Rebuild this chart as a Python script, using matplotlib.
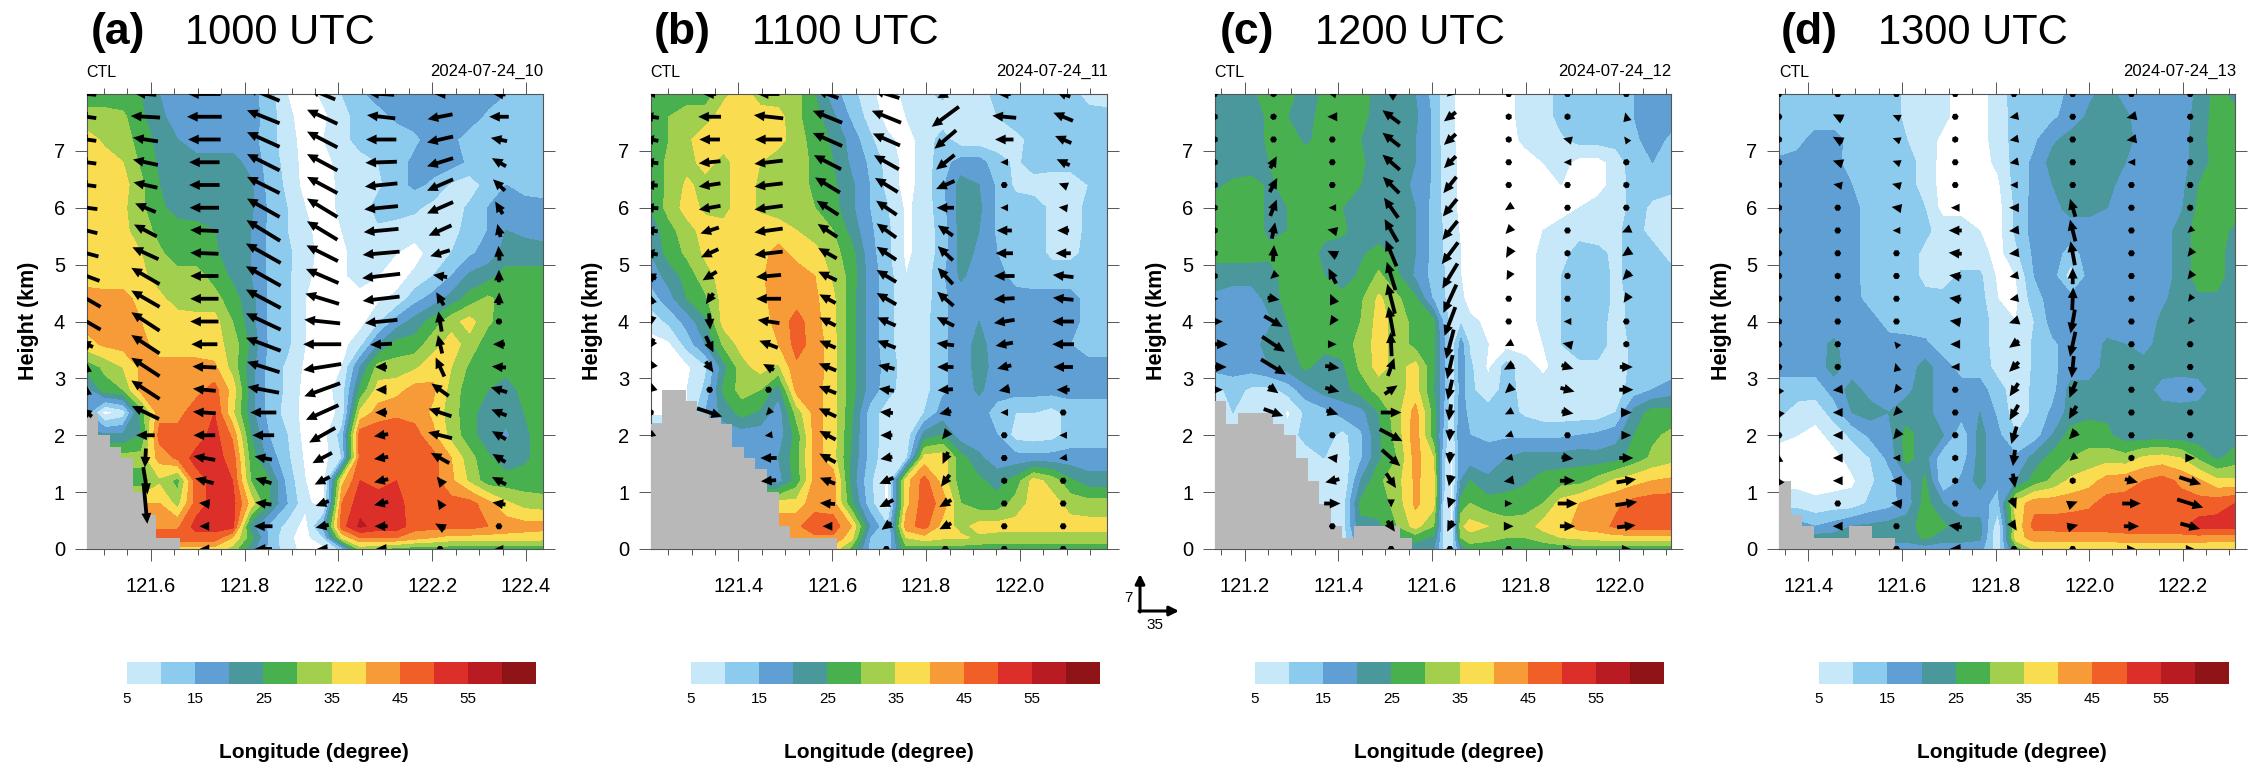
import numpy as np
import matplotlib
matplotlib.use("Agg")
import matplotlib.pyplot as plt
from matplotlib.ticker import MultipleLocator

plt.rcParams['font.family'] = ['Liberation Sans', 'DejaVu Sans']
nan = float('nan')

heights = [8.0,7.6,7.2,6.8,6.4,6.0,5.6,5.2,4.8,4.4,4.0,3.6,3.2,2.8,2.4,2.0,1.6,1.2,0.8,0.4,0.2,0.0]
vec_heights = [8.0,7.6,7.2,6.8,6.4,6.0,5.6,5.2,4.8,4.4,4.0,3.6,3.2,2.8,2.4,2.0,1.6,1.2,0.8,0.4,0.0]
levels = [0,5,10,15,20,25,30,35,40,45,50,55,60,65]
colors = ['#ffffff','#c6e8f9','#8ccbee','#5f9fd4','#4a979c','#49b050','#a3cf4f','#fadc50','#f79a38','#f05f28','#dd2f2a','#b81b22','#8e1418']
cbar_ticks = [5,15,25,35,45,55]

spd_a = [
[27,27,27,25,20,17,17,17,17,17,12,5,3,6,10,14,17,17,17,17,17,17,17,15,12,12],
[32,32,31,26,21,18,17,17,17,17,13,6,3,4,8,12,13,16,17,17,17,17,14,12,12,12],
[37,34,32,28,23,20,17,17,17,17,12,7,3,5,8,12,12,12,14,17,16,13,12,12,12,12],
[37,37,35,29,24,22,22,22,22,18,13,8,3,3,7,8,10,13,16,17,17,14,12,12,12,12],
[37,37,37,31,25,22,22,22,22,21,13,9,3,3,6,7,9,13,16,14,9,7,12,15,13,12],
[37,37,36,31,26,23,22,22,22,21,14,10,5,3,6,7,12,12,11,8,7,11,15,17,17,17],
[37,37,36,33,28,27,27,25,22,20,14,10,6,3,5,7,9,8,7,5,8,12,15,20,19,18],
[37,37,37,35,31,27,27,26,22,20,14,11,7,3,4,7,8,5,3,7,10,14,17,22,22,22],
[38,37,37,36,33,32,32,28,24,20,14,11,6,3,4,7,5,3,6,10,15,21,23,27,27,27],
[42,42,42,38,36,33,32,32,27,22,14,11,5,3,3,3,4,6,13,17,22,27,31,28,27,27],
[42,42,42,40,37,37,37,37,30,22,14,11,5,3,3,3,9,17,22,27,33,37,31,27,27,27],
[38,41,42,42,37,37,37,37,33,24,14,11,5,3,3,8,20,27,27,33,37,33,27,27,27,27],
[27,31,35,41,42,42,42,41,33,22,13,9,4,3,5,20,32,32,34,38,35,29,27,27,27,27],
[17,28,30,42,42,43,43,47,38,22,13,9,3,3,7,26,37,38,42,41,33,27,25,22,27,27],
[17,3,7,27,43,43,48,50,36,22,13,8,3,3,6,36,42,44,43,39,32,27,22,22,25,27],
[21,21,21,25,47,47,47,52,44,25,15,10,3,3,12,48,49,48,47,41,33,27,22,19,24,27],
[32,32,32,32,42,46,52,52,48,28,18,11,4,3,10,47,50,47,47,47,40,32,26,22,24,27],
[27,27,27,27,34,28,47,52,50,30,26,13,5,3,38,50,48,50,47,47,41,34,27,27,27,27],
[40,40,40,40,40,33,47,52,52,38,25,15,6,3,45,53,53,52,47,47,47,47,42,36,33,32],
[44,44,44,44,44,44,52,52,52,22,14,8,3,17,48,56,53,53,47,47,47,47,45,43,42,42],
[48,48,48,48,48,48,48,48,40,27,14,6,3,10,36,45,45,45,42,40,38,38,38,38,38,37],
[38,38,38,38,38,38,38,38,33,22,14,7,3,3,12,32,30,28,27,27,27,27,27,27,27,27],
]
spd_b = [
[27,27,27,27,34,37,33,32,32,25,17,12,6,3,6,9,11,7,7,12,13,13,13,12,8,7],
[27,30,33,33,37,37,37,37,31,27,21,14,8,3,5,7,7,7,7,10,13,13,13,13,12,12],
[27,30,34,38,38,38,38,37,32,28,24,18,11,6,3,7,12,7,7,7,8,12,12,12,12,12],
[27,31,33,37,33,38,35,32,32,29,25,19,14,8,3,7,13,17,17,12,9,12,12,12,12,12],
[27,31,36,33,33,38,34,32,32,29,26,21,15,8,3,7,14,22,20,14,9,8,7,7,10,12],
[25,32,37,34,33,38,34,33,32,30,27,21,15,10,4,7,13,22,21,14,12,12,9,8,11,12],
[22,28,33,37,37,38,38,37,35,32,30,23,16,11,4,7,12,22,20,14,12,12,9,8,11,12],
[20,27,31,36,37,38,38,42,38,37,32,27,17,11,4,7,12,22,19,15,12,12,9,9,11,12],
[17,22,27,33,37,37,39,43,43,40,34,28,18,12,5,7,14,21,17,17,13,12,12,12,12,12],
[12,18,25,29,37,37,38,43,43,41,36,27,18,12,5,7,14,17,17,17,17,17,17,17,13,12],
[7,11,17,24,37,37,37,42,47,42,36,27,18,12,5,8,14,17,20,17,17,17,17,17,13,12],
[3,4,12,20,31,37,37,40,47,43,37,27,18,12,6,8,14,17,22,17,17,17,17,15,12,12],
[3,3,4,9,23,33,37,34,44,43,37,27,18,13,7,8,14,17,22,18,17,17,17,17,17,17],
[3,3,5,11,26,32,30,22,42,42,37,27,18,12,7,8,14,17,21,17,17,17,17,17,17,17],
[3,3,5,15,22,27,24,17,32,42,37,26,13,7,7,10,17,17,17,13,10,10,8,12,12,12],
[17,17,17,17,17,17,17,17,27,42,37,25,13,7,6,22,25,17,17,15,8,7,8,12,12,12],
[15,15,15,15,15,15,15,20,28,42,37,24,13,6,8,37,38,27,21,17,17,17,17,17,17,17],
[18,18,18,18,18,18,18,18,27,42,43,23,11,4,38,47,38,27,26,23,27,37,33,26,22,22],
[37,37,37,37,37,37,37,37,37,43,42,26,12,3,38,48,43,30,27,27,32,37,37,33,32,32],
[44,44,44,44,44,44,44,44,44,48,48,40,20,10,43,47,38,33,37,37,37,37,37,37,37,37],
[44,44,44,44,44,44,44,44,44,44,44,37,15,10,35,38,36,36,34,33,33,33,33,33,33,33],
[30,30,30,30,30,30,30,30,30,40,38,28,14,12,28,27,27,27,27,27,27,27,27,27,27,27],
]
spd_c = [
[22,22,24,27,27,22,26,27,27,23,22,20,13,8,6,3,3,3,3,7,7,12,12,12,12,15,17,17],
[22,22,22,26,25,23,27,27,27,22,22,21,14,8,6,3,3,3,3,7,7,12,12,12,12,15,17,17],
[22,22,22,26,27,24,27,27,25,22,22,20,14,8,6,3,3,3,3,6,7,9,12,12,12,14,17,14],
[22,22,22,25,27,27,27,27,26,22,22,20,14,9,7,3,3,3,3,3,5,7,3,3,7,13,15,12],
[24,26,27,24,27,27,27,27,25,22,22,19,14,9,7,3,3,3,3,3,3,5,3,3,7,12,12,12],
[27,27,27,24,25,27,27,25,22,22,22,20,13,9,7,3,3,3,3,3,5,3,5,7,7,12,9,7],
[27,27,27,24,25,27,26,26,22,22,22,20,13,10,8,4,3,3,3,3,5,7,8,8,9,12,8,7],
[27,27,27,26,27,27,24,22,24,27,23,20,13,10,8,5,3,3,3,3,6,8,12,11,9,12,12,8],
[22,22,22,23,27,27,25,22,26,31,26,19,13,11,7,5,3,3,3,3,6,10,12,12,9,12,12,12],
[19,17,17,22,27,29,27,27,29,36,31,26,14,11,7,6,3,3,3,3,6,10,12,12,9,11,12,12],
[17,17,17,19,25,27,27,27,30,37,33,28,26,15,7,9,6,4,3,3,6,10,12,12,8,12,12,12],
[17,17,18,22,24,27,27,27,32,37,33,28,26,17,7,17,9,5,3,3,5,10,12,12,8,11,12,12],
[17,17,17,20,22,26,22,24,31,37,33,37,26,17,7,18,11,4,12,7,4,7,9,9,8,11,12,12],
[8,12,9,8,12,18,22,23,27,32,33,37,25,17,6,17,11,7,12,8,7,7,7,7,8,12,15,17],
[10,10,10,10,4,11,13,17,18,25,33,42,28,16,6,19,12,12,12,9,7,7,7,7,10,22,27,27],
[7,7,7,7,7,12,13,8,14,24,32,43,27,15,5,20,15,14,14,14,14,14,15,16,18,25,29,31],
[7,7,7,7,7,7,10,7,14,24,30,42,35,12,4,19,17,17,20,22,22,22,23,22,23,27,31,33],
[7,7,7,7,7,7,7,5,20,29,33,41,37,12,4,20,25,21,23,24,27,28,28,32,36,38,40,41],
[8,8,8,8,8,8,8,7,26,27,32,41,37,10,4,27,30,27,27,28,30,37,40,43,44,47,48,48],
[7,7,7,7,7,7,7,7,24,24,30,37,30,10,4,34,37,35,32,32,37,38,42,43,46,48,48,48],
[7,7,7,7,7,7,7,7,20,24,27,27,24,10,5,30,33,32,30,30,32,35,36,37,38,38,38,38],
[7,7,7,7,7,7,7,7,20,22,22,22,20,10,7,20,27,26,27,27,27,27,27,27,27,27,27,27],
]
spd_d = [
[12,12,12,12,12,12,12,9,7,6,3,3,7,13,12,13,16,19,22,18,17,17,17,21,27,23],
[12,12,12,12,12,12,12,9,7,6,3,3,7,12,12,14,17,21,22,21,17,17,17,22,27,27],
[12,13,17,17,13,12,12,10,7,4,3,3,7,12,14,19,22,22,22,22,17,17,17,23,27,27],
[16,17,17,17,12,12,12,12,8,3,3,3,6,12,16,22,22,22,22,20,17,17,18,22,27,27],
[17,17,17,17,15,12,12,12,8,3,3,3,4,12,16,20,22,22,22,17,17,17,18,25,27,27],
[17,17,17,17,17,12,12,12,10,3,3,3,3,11,17,18,22,22,20,17,17,17,19,26,27,27],
[16,17,17,17,17,12,12,12,11,8,8,5,3,11,17,17,17,17,17,17,17,17,22,27,27,24],
[15,17,17,17,17,12,12,12,9,7,7,7,3,9,16,17,13,17,17,17,17,17,22,27,27,22],
[17,17,17,17,17,12,12,12,9,7,11,11,4,5,15,17,7,17,17,17,17,17,22,27,27,22],
[17,17,17,17,17,13,12,12,11,12,12,12,5,4,13,17,17,17,17,17,17,19,22,24,24,22],
[17,17,17,17,17,17,13,12,12,12,12,12,8,5,10,17,17,17,17,17,17,21,22,22,22,22],
[17,17,18,21,17,17,17,17,16,12,12,12,8,5,11,14,17,17,21,20,18,22,22,22,22,22],
[17,17,17,22,17,17,17,17,22,17,13,13,8,5,11,14,17,17,22,22,22,22,22,22,22,22],
[12,12,12,17,22,18,17,19,22,17,17,17,12,7,11,13,22,22,22,22,22,18,17,18,22,22],
[11,8,7,12,20,22,20,22,22,17,17,20,14,7,11,16,22,24,24,22,22,22,22,22,22,22],
[6,5,3,7,11,16,18,27,22,20,11,22,16,10,12,20,27,27,26,22,22,22,22,22,22,23],
[3,3,3,3,7,10,16,27,22,11,12,22,16,16,22,27,30,32,33,32,36,37,35,29,24,27],
[3,3,3,3,4,9,13,18,26,10,16,22,16,20,27,31,36,38,42,43,45,47,44,41,36,36],
[8,8,6,7,7,11,13,17,27,20,17,17,13,37,43,43,43,44,47,47,47,48,47,47,48,50],
[17,17,15,17,20,21,22,23,27,26,22,22,6,36,47,47,48,48,48,48,48,48,49,52,52,52],
[22,22,22,22,22,22,22,22,26,22,22,21,5,38,42,42,42,42,42,43,43,43,43,43,42,42],
[17,17,17,17,17,17,17,17,17,17,17,17,7,27,36,36,36,36,36,36,36,36,36,36,36,36],
]

u_a = [
[-18,-18,-18,-18,-18,-20,-20,-22,-24,-26,-26,-12,-1,-1,-10,nan,nan,nan,nan,nan,nan],
[-20,-27,-23,-23,-22,-19,-21,-24,-26,-26,-26,-26,-26,-26,-25,-17,-1,4,3.5,nan,nan],
[-30,-32,-30,-28,-28,-27,-26,-26,-26,-26,-26,-24,-22,-21,-21,-20,-20,-17,-10,-9,-9],
[-30,-30,-30,-30,-30,-30,-31,-32,-32,-32,-32,-32,-30,-29,-24,-20,-16,-15,-15,-17,-16],
[-24,-28,-28,-28,-28,-28,-28,-29,-30,-31,-33,-35,-35,-33,-30,-24,-18,-14,-12,-12,-10],
[-24,-26,-28,-29,-30,-31,-32,-34,-35,-34,-30,-20,-11,-10,-11,-13,-13,-13,-13,-12,-10],
[-10,-23,-24,-24,-24,-24,-21,-18,-13,-7,-3,-4,-8,-16,-21,-22,-17,-6,-5,-9,-5],
[-12,-18,-15,-13,-11,-7,-3,-1,0,.5,-6,-11,-13,-15,-14,-13,-12,-13,-12,-6,-8],
]
w_a = [
[.3,.5,.5,.5,.5,.5,1,1.2,1.8,3,3,1,2,2,1.5,nan,nan,nan,nan,nan,nan],
[.3,.3,.7,1,1,1.6,2.2,2.2,3,3,3.4,3.4,3.4,3.4,2.4,0,-3.5,-5,-7.5,nan,nan],
[0,0,0,0,0,0,.2,.2,0,0,0,0,.2,.4,.3,0,.7,.9,.2,0,0],
[2.5,2.4,2.7,3,3,3.4,3.8,3.6,3.6,3.4,3,2.4,1.9,1.1,0,0,.6,.9,.4,0,0],
[2,2.6,2.9,3,3,3.4,3.4,2.9,2.6,1.9,.7,0,-1.1,-2.4,-2.7,-2.7,-1.9,-1.4,-.9,-.5,0],
[.3,.6,0,-.2,-.6,-.6,-.6,-.6,-.8,-.8,-.6,-.2,0,0,0,-.4,-.4,-.6,-.6,0,0],
[0,-.9,-1.1,-1.5,-2.1,-2.1,-1.9,-1.1,.4,2.4,3.7,3.4,3.5,2.3,1.4,1.1,1.9,1.5,1.5,1,0],
[.2,0,.6,1.5,2.1,2.3,2.4,2.7,2.3,2.3,.3,0,.2,.9,1.1,1.5,1.5,1.4,.4,0,0],
]
u_b = [
[-8,-15,-14,-14,-13,-14,-13,-13,-10,-3,-2,-6,-6,-7,-3,-6,nan,nan,nan,nan,nan],
[-12,-21,-19,-20,-20,-20,-17,-16,-13,-7,1,7,7,-3,23,nan,nan,nan,nan,nan,nan],
[-20,-27,-25,-26,-26,-26,-26,-26,-23,-23,-20,-17,-10,-2,-5,-7,-15,-14,nan,nan,nan],
[-20,-27,-27,-25,-23,-20,-18,-17,-17,-15,-15,-15,-16,-16,-16,-15,-15,-14,-14,-9,nan],
[-24,-27,-25,-23,-21,-19,-18,-18,-18,-18,-17,-17,-15,-14,-12,-11,-11,-13,-13,-9,-6],
[-15,-25,-20,-17,-17,-16,-14,-14,-14,-15,-16,-16,-15,-14,-11,-6,-5,-8,-11,-11,-5],
[-12,-22,-17,-7,-3,-7,-14,-16,-19,-19,-19,-16,-13,-10,-7,-4,-4,-4,-4,-4,-6],
[-13,-18,-15,-12,-8,-8,-11,-14,-19,-19,-20,-20,-18,-12,-4,-7,-7,-6,-6,-5,-6],
]
w_b = [
[0,.4,.5,.4,.2,.2,.3,.5,1,2,-2,-2,-1.5,-1.2,-.3,-.9,nan,nan,nan,nan,nan],
[0,0,0,-.4,-.6,-.7,-1.1,-1.5,-1.6,-2,-3,-3,-2,-.8,-1.5,nan,nan,nan,nan,nan,nan],
[0,.6,0,-.6,-.6,-.7,-.7,-.6,-.4,0,.6,1.3,1.1,-1.1,-1.1,-.2,0,-.2,nan,nan,nan],
[1.5,2.2,2.4,2.6,2.8,2.6,2.4,1.9,1.6,1.6,1.5,1.3,1.3,1.3,1.5,1.6,1.6,1.1,.2,0,nan],
[1.5,2.2,2.2,2.6,2.6,2.6,2.6,2.4,2.2,2.1,1.5,1.3,.7,.4,.2,0,-.4,-1.1,-1.3,-1.3,0],
[-1.5,-3.7,-3.4,-2.7,-1.5,0,1.9,2.6,3,2.6,1.6,.4,0,-.2,-.5,-1.5,-2.2,-2.2,-1.3,-1.1,0],
[0,.4,0,0,0,0,0,0,0,-.2,-.6,-.6,-.6,-.4,0,0,0,-.3,0,0,0],
[1,1.5,1.3,1.1,.6,.2,0,0,.4,.4,0,0,0,0,0,0,-.2,0,0,0,0],
]
u_c = [
[0,0,0,0,0,-2,0,0,0,7,15,24,22,15,nan,nan,nan,nan,nan,nan,nan],
[0,1,3,6,7,6,3,1,-6,11,17,21,23,9,18,nan,nan,nan,nan,nan,nan],
[-7,-9,-5,-4,-3,-7,-9,-9,-7,-4,-5,8,13,13,11,5,-9,-13,15,3,nan],
[-8,-16,-16,-16,-15,-13,-12,-10,-8,-7,-5,-1,6,12,19,21,17,9,0,7,0],
[-6,-11,-11,-11,-12,-13,-14,-15,-14,-12,-10,-7,-5,-4,-2,-1,-1,-2,-3,-5,0],
[-3,-5,-4,-6,-6,-7,-6,-5,-4,-1,-1,-7,-9,-7,-7,-7,-7,-9,7,9,5],
[-5,-5,-8,-7,-6,-3,-2,-3,-5,-6,-7,-9,11,13,11,6,11,14,18,14,8],
[-3,-2,-4,-4,-4,-6,-8,-8,-7,-5,-1,-5,12,13,10,9,13,18,20,17,8],
]
w_c = [
[0,.8,.8,.8,.7,-.2,-.7,-.7,-.5,0,0,0,0,0,nan,nan,nan,nan,nan,nan,nan],
[-.3,.8,1,2.2,2.6,3,3,3,-1.1,-.4,-2,-2.8,-2.8,-1.3,-1.3,nan,nan,nan,nan,nan,nan],
[.3,0,0,0,0,0,.4,.9,2.8,1.8,-1.5,0,-.4,-.7,-.7,0,.2,-.6,0,0,nan],
[1,2.4,2.5,2.8,3,3.7,4.2,4.8,5.2,5.5,5.5,4.4,3.3,1.6,0,-2.2,-3,-2.7,-1.5,-2,0],
[-1,-1.7,-2,-2.2,-3,-3.2,-3.5,-4,-4.6,-5.2,-5.3,-5.4,-4.4,-3.7,-3,-2.2,-2.2,-2,-1.8,-2,0],
[0,.5,.3,0,.2,-.9,-1.3,-1.7,-1.5,0,0,-.7,-1,-1.3,-.7,-.5,-.3,-.3,0,0,0],
[0,.7,.4,0,0,0,0,-.5,-.3,0,0,.4,-.7,-.7,-.4,0,-.3,0,0,0,0],
[0,1.6,1.1,.9,.7,0,-.7,-1.1,-1.5,-1.5,0,.4,0,0,0,0,0,.6,.6,.4,0],
]
u_d = [
[-2,-2,-2,-2,-2,-2,-2,-2,-2,-2,-2,-2,-3,-4,-5,-3,-1,-4,nan,nan,nan],
[-4,-9,-9,-9,-8,-5,-5,-4,-4,-4,-3,-5,-6,-9,-9,-9,-9,-9,-5,-9,nan],
[-3,-7,-7,-7,-8,-9,-7,-5,-5,-5,-5,-4,-2,-5,-6,-6,-7,-10,-10,-5,-3],
[-3,-2,-2,-2,-2,-8,-12,-12,-11,-11,-10,-9,-8,-5,-3,-3,-5,-3,-3,-12,-10],
[-3,-8,-8,-8,-7,-9,-9,-9,-8,-8,-9,-9,-9,-8,-8,-5,-2,2,4,5,0],
[-1,0,0,0,-3,-5,-5,-4,0,1,-4,-5,-2,-6,-7,-7,-6,-5,9,10,0],
[-5,-9,-9,-7,-4,-3,-2,-2,-1,-2,-2,-2,-2,-2,-1,-1,4,12,17,14,8],
[-3,-2,-2,-2,-2,-3,-5,-5,-5,-4,-4,-2,-2,-5,-2,-2,9,20,24,18,8],
]
w_d = [
[0,.5,.3,.5,.3,.3,0,0,0,0,.3,.8,.8,1.2,1.2,1,1.5,1.3,nan,nan,nan],
[0,.9,1,.6,.3,0,0,0,.3,.3,0,-.2,-.3,-.2,0,0,0,0,0,0,nan],
[0,.6,.5,.5,.4,.3,0,0,0,0,0,1,1.5,-1.3,-1.3,-1.5,0,0,.2,0,0],
[0,.5,.3,0,0,0,0,.2,.3,.3,.3,0,0,0,0,.8,.6,.4,0,.4,0],
[0,-.3,-.3,-.3,0,0,-.2,-.2,-.3,-.3,-.6,-1.3,-1.8,-2.4,-2.8,-3.2,-3,-2.6,-2,-1.6,0],
[0,0,0,0,1,3.3,4,4.4,3,4.2,-4.4,-4.6,-4,-3,-2.4,-1.5,-1,-.5,.7,.5,0],
[0,-.4,-.3,0,0,0,0,0,0,0,0,0,0,0,0,0,-.7,-.6,0,0,0],
[0,.5,.3,0,0,-.7,-.9,-1.3,-1.3,-1.1,-1,0,0,0,0,0,0,-1.3,-1.5,-1,0],
]

terrain_a = [2.4,2.0,1.8,1.6,1.0,0.6,0.2,0.2]
terrain_b = [2.2,2.8,2.8,2.6,2.4,2.3,2.2,1.8,1.6,1.4,1.0,0.4,0.2,0.2,0.2,0.2]
terrain_c = [2.6,2.2,2.4,2.4,2.4,2.2,2.0,1.6,1.2,0.8,0.4,0.2,0.4,0.4,0.4,0.4,0.2]
terrain_d = [1.2,0.6,0.4,0.2,0.2,0.2,0.4,0.4,0.2,0.2]

panels = [
 dict(tag='(a)', utc='1000 UTC', date='2024-07-24_10', xlim=(121.463,122.435), xt=[121.6,121.8,122.0,122.2,122.4],
      spd=spd_a, u=u_a, w=w_a, ter=terrain_a, left=86.5, tagx=91, titx=185, cbx=(127,536), lonx=314, extra=None),
 dict(tag='(b)', utc='1100 UTC', date='2024-07-24_11', xlim=(121.213,122.185), xt=[121.4,121.6,121.8,122.0],
      spd=spd_b, u=u_b, w=w_b, ter=terrain_b, left=650.7, tagx=654, titx=752, cbx=(691,1100), lonx=879, extra=None),
 dict(tag='(c)', utc='1200 UTC', date='2024-07-24_12', xlim=(121.136,122.110), xt=[121.2,121.4,121.6,121.8,122.0],
      spd=spd_c, u=u_c, w=w_c, ter=terrain_c, left=1214.7, tagx=1220, titx=1315, cbx=(1255,1664), lonx=1449, extra=(13,15)),
 dict(tag='(d)', utc='1300 UTC', date='2024-07-24_13', xlim=(121.337,122.312), xt=[121.4,121.6,121.8,122.0,122.2],
      spd=spd_d, u=u_d, w=w_d, ter=terrain_d, left=1779, tagx=1781, titx=1878, cbx=(1819,2229), lonx=2012, extra=None),
]

W, H = 2252, 763
fig = plt.figure(figsize=(W/100, H/100), dpi=100, facecolor='white')
def fx(x): return x/W
def fy(y): return 1-y/H

TOP, BOTTOM, AW = 94.0, 549.0, 456.0
edge = '#555555'
for p in panels:
    ax = fig.add_axes([fx(p['left']), fy(BOTTOM), AW/W, (BOTTOM-TOP)/H])
    x0, x1 = p['xlim']
    lon = np.linspace(x0, x1, 26)
    if p['extra']:
        base = np.linspace(x0, x1, 26)
        lon = np.insert(base, [13, 14], [(base[12]+base[13])/2, (base[13]+base[14])/2])
    cs = ax.contourf(lon, heights, np.array(p['spd'], float), levels=levels, colors=colors)
    ax.stairs(p['ter'], x0+0.0248*np.arange(len(p['ter'])+1), baseline=0, fill=True, color='#b8b8b8', zorder=3)
    qlon = x0+0.1256*np.arange(8)
    U = np.ma.masked_invalid(np.array(p['u'], float).T)
    V = np.ma.masked_invalid(np.array(p['w'], float).T*5)
    ax.quiver(qlon, vec_heights, U, V, units='dots', angles='uv', scale_units='dots', scale=35/38,
              width=3.8, headwidth=2.6, headlength=2.8, headaxislength=2.8, minlength=1.8, minshaft=1,
              pivot='mid', color='black', zorder=4)
    ax.set_xlim(x0, x1); ax.set_ylim(0, 8)
    ax.set_xticks(p['xt']); ax.set_xticklabels(['%.1f' % t for t in p['xt']])
    ax.xaxis.set_minor_locator(MultipleLocator(0.05))
    ax.set_yticks(range(0, 8))
    ax.tick_params(axis='both', which='major', direction='out', length=8.5, width=0.7, color=edge,
                   labelsize=14.5, top=True, right=True, pad=12)
    ax.tick_params(axis='x', which='minor', direction='out', length=4, width=0.7, color=edge, top=True)
    ax.tick_params(axis='y', pad=7)
    for s in ax.spines.values():
        s.set_color(edge); s.set_linewidth(0.8)
    fig.text(fx(p['left']-58), fy(321), 'Height (km)', rotation=90, ha='center', va='center', fontsize=15.5, fontweight='bold')
    fig.text(fx(p['left']), fy(72.5), 'CTL', ha='left', va='center', fontsize=11.5)
    fig.text(fx(p['left']+AW+1), fy(71), p['date'], ha='right', va='center', fontsize=12)
    fig.text(fx(p['tagx']), fy(44), p['tag'], ha='left', va='baseline', fontsize=32, fontweight='bold')
    fig.text(fx(p['titx']), fy(44), p['utc'], ha='left', va='baseline', fontsize=30)
    a, b = p['cbx']
    cax = fig.add_axes([fx(a), fy(684), (b-a)/W, 22.5/H])
    cb = fig.colorbar(cs, cax=cax, orientation='horizontal', ticks=cbar_ticks, boundaries=levels[1:],
                      drawedges=False, spacing='proportional', values=[(levels[i]+levels[i+1])/2 for i in range(1, 13)])
    cb.outline.set_visible(False)
    cax.set_xlim(5, 65)
    cax.tick_params(length=0, labelsize=11, pad=6)
    fig.text(fx(p['lonx']), fy(752), 'Longitude (degree)', ha='center', va='center', fontsize=15, fontweight='bold')

ov = fig.add_axes([0, 0, 1, 1], facecolor='none'); ov.set_xlim(0, W); ov.set_ylim(H, 0); ov.axis('off')
ov.annotate('', xy=(1140, 574), xytext=(1140, 612), arrowprops=dict(arrowstyle='-|>', lw=2.2, color='black', mutation_scale=14, shrinkA=0, shrinkB=0))
ov.annotate('', xy=(1179, 611), xytext=(1139, 611), arrowprops=dict(arrowstyle='-|>', lw=2.2, color='black', mutation_scale=14, shrinkA=0, shrinkB=0))
ov.text(1128, 598, '7', ha='center', va='center', fontsize=11)
ov.text(1155, 625, '35', ha='center', va='center', fontsize=11)

fig.savefig('out.png', dpi=100, facecolor='white')
